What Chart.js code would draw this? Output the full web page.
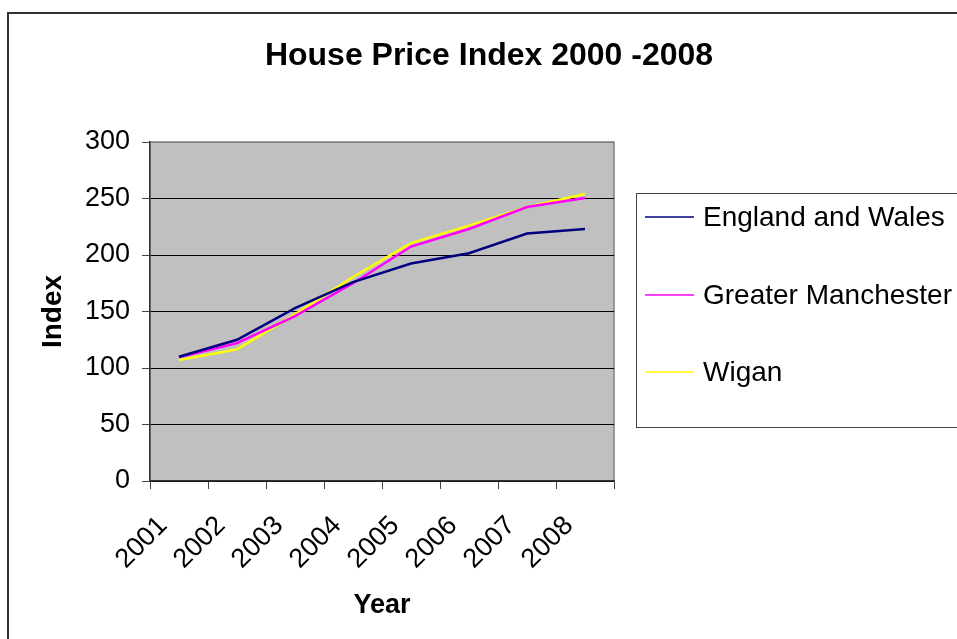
<!DOCTYPE html>
<html>
<head>
<meta charset="utf-8">
<script src="https://cdn.jsdelivr.net/npm/chart.js@4"></script>
<style>
  html, body { margin: 0; padding: 0; background: #fff; }
  #wrap { width: 957px; height: 639px; }
</style>
</head>
<body>
<div id="wrap"><canvas id="hpi-chart" width="957" height="639"></canvas></div>
<script>
// dati
var years = ['2001', '2002', '2003', '2004', '2005', '2006', '2007', '2008'];
var englandWales = [110, 125, 153, 176, 192.5, 201.5, 219, 223];
var greaterManchester = [109.5, 122, 146, 175, 207.5, 223, 242.5, 250.5];
var wigan = [107, 116.5, 147.5, 180.5, 210.5, 226, 242.5, 254];
var yTicks = [0, 50, 100, 150, 200, 250, 300];
var chartTitle = 'House Price Index 2000 -2008';

var FONT = "'Liberation Sans', Arial, sans-serif";

// sfondo grigio dell'area del grafico + cornice esterna
var plotBackground = {
  id: 'plotBackground',
  beforeDraw: function (chart) {
    var ctx = chart.ctx, a = chart.chartArea;
    ctx.save();
    ctx.fillStyle = '#fff';
    ctx.fillRect(0, 0, chart.width, chart.height);
    ctx.strokeStyle = '#333';
    ctx.lineWidth = 2;
    ctx.strokeRect(8, 13, chart.width + 20, chart.height + 20);
    ctx.fillStyle = '#C0C0C0';
    ctx.fillRect(a.left, a.top, a.right - a.left, a.bottom - a.top);
    ctx.strokeStyle = '#808080';
    ctx.lineWidth = 1.5;
    ctx.strokeRect(a.left, a.top, a.right - a.left, a.bottom - a.top);
    // titolo centrato sull'intera figura
    ctx.fillStyle = '#000';
    ctx.font = 'bold 32px ' + FONT;
    ctx.textAlign = 'center';
    ctx.textBaseline = 'middle';
    ctx.fillText(chartTitle, 489, 56);
    ctx.restore();
  }
};

// legenda con riquadro, come nell'originale
var boxedLegend = {
  id: 'boxedLegend',
  afterDraw: function (chart) {
    var ctx = chart.ctx;
    ctx.save();
    ctx.strokeStyle = '#444';
    ctx.lineWidth = 1;
    ctx.strokeRect(636.5, 193.5, 340, 234);
    ctx.font = '28px ' + FONT;
    ctx.textBaseline = 'middle';
    ctx.textAlign = 'left';
    var rows = [217, 295, 372];
    chart.data.datasets.forEach(function (ds, i) {
      ctx.strokeStyle = ds.borderColor;
      ctx.lineWidth = 1.5;
      ctx.beginPath();
      ctx.moveTo(645, rows[i]);
      ctx.lineTo(694, rows[i]);
      ctx.stroke();
      ctx.fillStyle = '#000';
      ctx.fillText(ds.label, 703, rows[i] + 1);
    });
    ctx.restore();
  }
};

var ctx = document.getElementById('hpi-chart').getContext('2d');
var hpiChart = new Chart(ctx, {
  type: 'line',
  data: {
    labels: years,
    datasets: [{
      label: 'England and Wales',
      data: englandWales,
      borderColor: '#000080',
      borderWidth: 2.5,
      pointRadius: 0,
      tension: 0
    }, {
      label: 'Greater Manchester',
      data: greaterManchester,
      borderColor: '#FF00FF',
      borderWidth: 2.5,
      pointRadius: 0,
      tension: 0
    }, {
      label: 'Wigan',
      data: wigan,
      borderColor: '#FFFF00',
      borderWidth: 2.5,
      pointRadius: 0,
      tension: 0
    }]
  },
  options: {
    responsive: false,
    animation: false,
    devicePixelRatio: 1,
    layout: {
      padding: { left: 32, right: 343, top: 142, bottom: 13 }
    },
    plugins: {
      legend: { display: false },
      tooltip: { enabled: false },
      title: { display: false }
    },
    scales: {
      x: {
        offset: true,
        grid: {
          offset: true,
          drawOnChartArea: false,
          drawTicks: true,
          tickLength: 8,
          color: '#444'
        },
        border: { color: '#333', width: 1.5 },
        ticks: {
          color: '#000',
          font: { family: FONT, size: 27 },
          minRotation: 45,
          maxRotation: 45,
          autoSkip: false,
          padding: 21,
          labelOffset: -16
        },
        title: {
          display: true,
          text: 'Year',
          color: '#000',
          font: { family: FONT, size: 27, weight: 'bold' }
        },
        afterFit: function (scale) { scale.height = 145; }
      },
      y: {
        min: 0,
        max: 300,
        afterBuildTicks: function (scale) {
          scale.ticks = yTicks.map(function (v) { return { value: v }; });
        },
        grid: {
          color: function (c) { return c.tick && c.tick.value === 300 ? '#808080' : '#000'; },
          tickColor: '#444',
          tickLength: 8,
          lineWidth: 1
        },
        border: { color: '#333', width: 1.5 },
        ticks: {
          color: '#000',
          font: { family: FONT, size: 27 },
          padding: 12
        },
        title: {
          display: true,
          text: 'Index',
          color: '#000',
          font: { family: FONT, size: 28, weight: 'bold' }
        },
        afterFit: function (scale) { scale.width = 118; }
      }
    }
  },
  plugins: [plotBackground, boxedLegend]
});
</script>
</body>
</html>
